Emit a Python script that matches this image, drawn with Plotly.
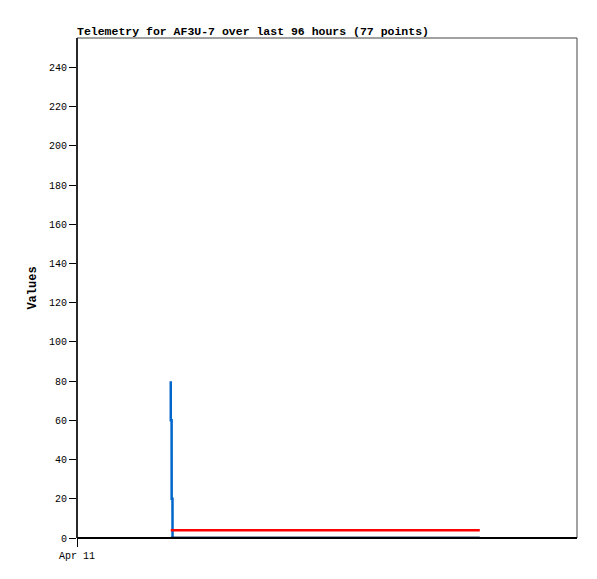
import plotly.graph_objects as go

# Data
blue_times = ["2024-04-11 18:00", "2024-04-11 18:00:30", "2024-04-11 18:10", "2024-04-11 18:10:30",
              "2024-04-11 18:20", "2024-04-11 18:20:30", "2024-04-12 12:00", "2024-04-13 12:00",
              "2024-04-14 05:20"]
blue_vals = [80, 60, 60, 20, 20, 0, 0, 0, 0]

red_times = ["2024-04-11 18:00", "2024-04-12 12:00", "2024-04-13 12:00", "2024-04-14 05:20"]
red_vals = [4, 4, 4, 4]

black_times = ["2024-04-11 18:00", "2024-04-12 12:00", "2024-04-13 12:00", "2024-04-14 05:20"]
black_vals = [0, 0, 0, 0]

x_tick_vals = ["2024-04-11 00:00"]
x_tick_text = ["Apr 11"]
y_tick_vals = list(range(0, 241, 20))

title_text = "Telemetry for AF3U-7 over last 96 hours (77 points)"
y_title = "Values"

font_family = "Liberation Mono, DejaVu Sans Mono, monospace"

fig = go.Figure()
fig.add_trace(go.Scatter(x=blue_times, y=blue_vals, mode="lines",
                         line=dict(color="#0066cc", width=2.5), showlegend=False))
fig.add_trace(go.Scatter(x=red_times, y=red_vals, mode="lines",
                         line=dict(color="#ff0000", width=2.5), showlegend=False))
fig.add_trace(go.Scatter(x=black_times, y=black_vals, mode="lines",
                         line=dict(color="#000000", width=2.5), showlegend=False))

W, H = 589, 571
fig.update_layout(
    width=W, height=H,
    margin=dict(l=69, r=20, t=30, b=41, autoexpand=False),
    paper_bgcolor="white", plot_bgcolor="white",
    font=dict(family=font_family, size=10, color="black"),
    title=dict(text="<b>" + title_text + "</b>", x=69 / W, xanchor="left",
               y=1 - 27 / H, yanchor="bottom", font=dict(size=11.5, family=font_family)),
    xaxis=dict(
        type="date", range=["2024-04-11 00:00", "2024-04-15 00:00"],
        tickvals=x_tick_vals, ticktext=x_tick_text, automargin=False,
        showgrid=False, zeroline=False, showline=False,
        ticks="outside", ticklen=8, tickcolor="black", tickwidth=1,
        tickfont=dict(size=10),
    ),
    yaxis=dict(
        range=[0, 255], tickvals=y_tick_vals, automargin=False,
        showgrid=False, zeroline=False, showline=False,
        ticks="outside", ticklen=7, tickcolor="black", tickwidth=1,
        tickfont=dict(size=10),
        title=dict(text="<b>" + y_title + "</b>", standoff=9, font=dict(size=12)),
    ),
)

# Frame: gray top/right, black left/bottom
fig.add_shape(type="rect", xref="paper", yref="paper", x0=0, y0=0, x1=1, y1=1,
              line=dict(color="#444444", width=1), layer="above")
fig.add_shape(type="line", xref="paper", yref="paper", x0=0, y0=0, x1=0, y1=1,
              line=dict(color="black", width=1.5), layer="above")
fig.add_shape(type="line", xref="paper", yref="paper", x0=0, y0=0, x1=1, y1=0,
              line=dict(color="black", width=2), layer="above")

fig.write_html("out.html")
